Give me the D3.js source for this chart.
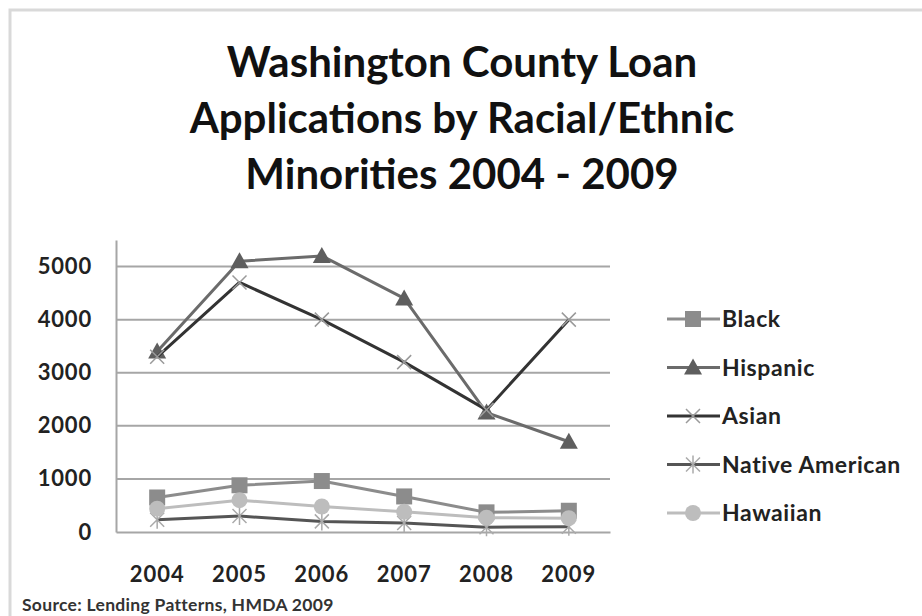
<!DOCTYPE html>
<html>
<head>
<meta charset="utf-8">
<script src="https://cdn.jsdelivr.net/npm/d3@7"></script>
<style>
  html, body { margin: 0; padding: 0; background: #fff; }
  svg { display: block; font-family: Lato, "Open Sans", sans-serif; }
</style>
</head>
<body>
<svg id="chart" width="922" height="616"></svg>
<script>
// Loan applications by group, 2004-2009
const years = ["2004", "2005", "2006", "2007", "2008", "2009"];
const black = [650, 880, 960, 670, 370, 400];
const hispanic = [3400, 5100, 5200, 4400, 2250, 1700];
const asian = [3300, 4700, 4000, 3200, 2300, 4000];
const nativeAmerican = [230, 300, 200, 170, 90, 100];
const hawaiian = [440, 600, 480, 380, 270, 260];
const yTicks = [0, 1000, 2000, 3000, 4000, 5000];
const titleLines = ["Washington County Loan", "Applications by Racial/Ethnic", "Minorities 2004 - 2009"];
const sourceNote = "Source: Lending Patterns, HMDA 2009";

const series = [
  { name: "Black", values: black, line: "#8c8c8c", fill: "#8c8c8c", marker: "square" },
  { name: "Hispanic", values: hispanic, line: "#6b6b6b", fill: "#5e5e5e", marker: "triangle" },
  { name: "Asian", values: asian, line: "#333333", fill: "#9a9a9a", marker: "x" },
  { name: "Native American", values: nativeAmerican, line: "#555555", fill: "#aaaaaa", marker: "asterisk" },
  { name: "Hawaiian", values: hawaiian, line: "#bdbdbd", fill: "#bdbdbd", marker: "circle" }
];

const svg = d3.select("#chart");

// Chart frame
svg.append("rect")
  .attr("x", 10).attr("y", 10).attr("width", 930).attr("height", 640)
  .attr("fill", "#fff").attr("stroke", "#d9d9d9").attr("stroke-width", 3);

// Title
svg.append("text")
  .attr("text-anchor", "middle")
  .attr("font-size", 42).attr("font-weight", 700).attr("fill", "#111")
  .selectAll("tspan").data(titleLines).join("tspan")
  .attr("x", 462).attr("y", (d, i) => 77 + i * 56)
  .text(d => d);

const x = d3.scaleBand().domain(years).range([116, 610]).padding(0);
const y = d3.scaleLinear().domain([0, 5500]).range([532, 240]);

// Horizontal gridlines
svg.append("g").selectAll("line").data(yTicks.filter(d => d > 0)).join("line")
  .attr("x1", 116).attr("x2", 610)
  .attr("y1", d => y(d)).attr("y2", d => y(d))
  .attr("stroke", "#a6a6a6").attr("stroke-width", 2);

// Axes
const yAxis = svg.append("g").attr("transform", "translate(116,0)")
  .call(d3.axisLeft(y).tickValues(yTicks).tickSize(0).tickPadding(24).tickFormat(d3.format("d")));
yAxis.select(".domain").attr("stroke", "#a6a6a6").attr("stroke-width", 2);
yAxis.selectAll("text").attr("font-size", 22).attr("font-weight", 700).attr("fill", "#222")
  .attr("letter-spacing", 0.8).attr("font-family", "Lato, sans-serif");

const xAxis = svg.append("g").attr("transform", "translate(0,532)")
  .call(d3.axisBottom(x).tickSize(0).tickPadding(34));
xAxis.select(".domain").attr("stroke", "#a6a6a6").attr("stroke-width", 2);
xAxis.selectAll("text").attr("font-size", 22).attr("font-weight", 700).attr("fill", "#222")
  .attr("letter-spacing", 1).attr("font-family", "Lato, sans-serif");

const cx = d => x(d) + x.bandwidth() / 2;

function drawMarker(g, type, s) {
  if (type === "square") {
    g.append("rect").attr("x", -8).attr("y", -8).attr("width", 16).attr("height", 16)
      .attr("fill", s.fill);
  } else if (type === "triangle") {
    g.append("path").attr("d", "M0,-9L9,7L-9,7Z").attr("fill", s.fill);
  } else if (type === "circle") {
    g.append("circle").attr("r", 8).attr("fill", s.fill);
  } else if (type === "x") {
    g.append("path").attr("d", "M-7,-7L7,7M-7,7L7,-7")
      .attr("stroke", s.fill).attr("stroke-width", 1.5).attr("fill", "none");
  } else if (type === "asterisk") {
    g.append("path").attr("d", "M-7,-7L7,7M-7,7L7,-7M0,-9L0,9")
      .attr("stroke", s.fill).attr("stroke-width", 1.5).attr("fill", "none");
  }
}

const line = d3.line().x(d => cx(d.year)).y(d => y(d.value));

// Series lines and markers
series.forEach(s => {
  const pts = years.map((yr, i) => ({ year: yr, value: s.values[i] }));
  const g = svg.append("g");
  g.append("path").datum(pts).attr("d", line)
    .attr("fill", "none").attr("stroke", s.line).attr("stroke-width", 3)
    .attr("stroke-linejoin", "round");
  pts.forEach(p => {
    const m = g.append("g").attr("transform", `translate(${cx(p.year)},${y(p.value)})`);
    drawMarker(m, s.marker, s);
  });
});

// Legend
const legend = svg.append("g");
series.forEach((s, i) => {
  const ly = 319 + i * 48.5;
  const row = legend.append("g").attr("transform", `translate(0,${ly})`);
  row.append("line").attr("x1", 667).attr("x2", 720).attr("y1", 0).attr("y2", 0)
    .attr("stroke", s.line).attr("stroke-width", 3);
  const m = row.append("g").attr("transform", "translate(693,0)");
  drawMarker(m, s.marker, s);
  row.append("text").attr("x", 722).attr("y", 8)
    .attr("font-size", 23).attr("font-weight", 700).attr("fill", "#222")
    .attr("letter-spacing", 0.6)
    .text(s.name);
});

// Source note
svg.append("text").attr("x", 22).attr("y", 611)
  .attr("font-size", 17.5).attr("font-weight", 700).attr("fill", "#333")
  .attr("letter-spacing", 0.3)
  .text(sourceNote);
</script>
</body>
</html>
